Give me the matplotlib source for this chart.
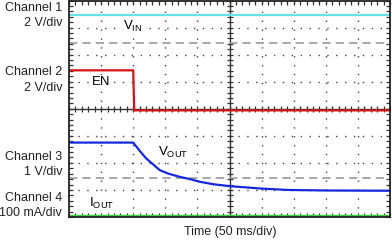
import numpy as np
import matplotlib
matplotlib.use("Agg")
import matplotlib.pyplot as plt

plt.rcParams["font.family"] = ["Liberation Sans", "DejaVu Sans"]
plt.rcParams["mathtext.fontset"] = "custom"
plt.rcParams["mathtext.rm"] = "Liberation Sans"
plt.rcParams["mathtext.it"] = "Liberation Sans"

# time axis in divisions (10 div, 50 ms/div), levels in divisions
vin_t = [0, 10]
vin = [3.48, 3.48]

en_t = [0, 2.0, 2.03, 10]
en = [1.42, 1.42, -0.06, -0.06]

vout_t = [0, 2.0, 2.2, 2.4, 2.83, 3.1, 3.46, 3.77, 4.08, 4.5, 5.0, 6.0, 6.8, 8.0, 10]
vout = [-1.25, -1.25, -1.55, -1.83, -2.27, -2.40, -2.52, -2.60, -2.70, -2.79, -2.86, -2.95, -3.00, -3.02, -3.03]

iout_t = [0, 10]
iout = [-3.97, -3.97]

ref_levels = [2.44, -2.56]

channel_labels = [("Channel 1", "2 V/div", 8, 23),
                  ("Channel 2", "2 V/div", 72, 88),
                  ("Channel 3", "1 V/div", 157, 172),
                  ("Channel 4", "100 mA/div", 198, 213)]

fig = plt.figure(figsize=(3.92, 2.4), dpi=100)
ax = fig.add_axes([69 / 392, 23 / 240, 321 / 392, 216.5 / 240])
ax.set_xlim(0, 10)
ax.set_ylim(-4, 4)

# graticule
for x in range(1, 10):
    if x != 5:
        ax.axvline(x, color="#444444", lw=1.0, ls=(0, (1, 5.4)))
for y in range(-3, 4):
    if y != 0:
        ax.axhline(y, color="#444444", lw=1.0, ls=(0, (1, 5.4)))
ax.axvline(5, color="#333333", lw=1.0)
ax.axhline(0, color="#333333", lw=1.0)
ax.plot(np.arange(0, 10.01, 0.2), np.zeros(51), ls="none", marker="|",
        ms=5, mew=0.9, color="#333333")
ax.plot(np.full(41, 5.0), np.arange(-4, 4.01, 0.2), ls="none", marker="_",
        ms=5, mew=0.9, color="#333333")

for lvl in ref_levels:
    ax.axhline(lvl, color="#999999", lw=1.2, ls=(0, (5, 3)))

ax.plot(vin_t, vin, color="#66e3ea", lw=1.6)
ax.plot(en_t, en, color="#d41414", lw=1.6)
ax.plot(vout_t, vout, color="#1428e0", lw=1.6)
ax.plot(iout_t, iout, color="#33d433", lw=1.6)

ax.set_xticks(np.arange(0, 10.01, 0.2))
ax.set_yticks(np.arange(-4, 4.01, 0.2))
ax.tick_params(direction="in", length=3, width=0.9, color="#333333",
               top=True, right=True, labelleft=False, labelbottom=False)
for s in ax.spines.values():
    s.set_color("#222222")
    s.set_linewidth(1.3)

box = dict(facecolor="white", edgecolor="none", pad=1)
ax.text(2.0, 3.05, r"V$_\mathrm{IN}$", fontsize=9.5, ha="center", va="center", bbox=box)
ax.text(1.0, 0.97, "EN", fontsize=9.5, ha="center", va="center", bbox=box)
ax.text(3.24, -1.6, r"V$_\mathrm{OUT}$", fontsize=9.5, ha="center", va="center", bbox=box)
ax.text(1.0, -3.5, r"I$_\mathrm{OUT}$", fontsize=9.5, ha="center", va="center", bbox=box)

for top, bottom, y1, y2 in channel_labels:
    fig.text(62 / 392, 1 - y1 / 240, top, fontsize=9, ha="right", va="center", color="#222222")
    fig.text(62 / 392, 1 - y2 / 240, bottom, fontsize=9, ha="right", va="center", color="#222222")

fig.text(230 / 392, 1 - 232 / 240, "Time (50 ms/div)", fontsize=9, ha="center", va="center", color="#222222")

fig.savefig("out.png", dpi=100)
